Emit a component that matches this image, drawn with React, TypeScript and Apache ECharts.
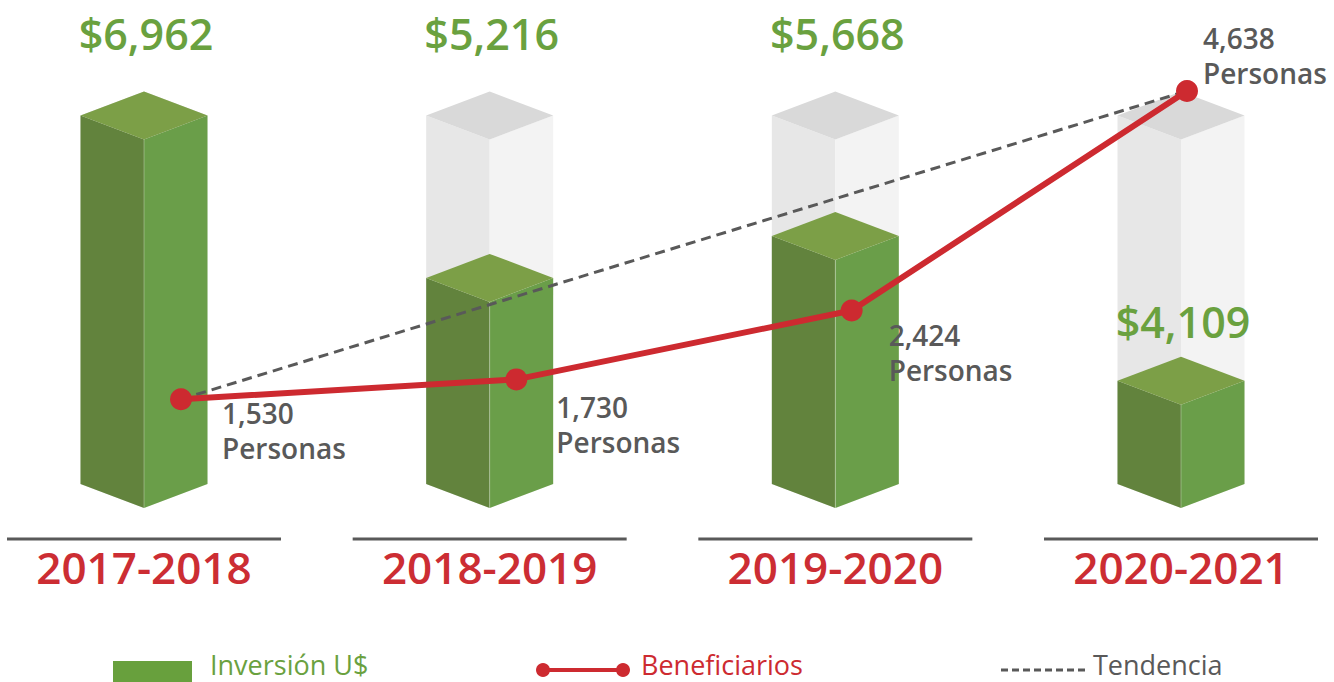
import React, { useEffect, useRef } from "react";
import * as echarts from "echarts";

// ---- Data ----
const categories: string[] = ["2017-2018", "2018-2019", "2019-2020", "2020-2021"];
const investment: number[] = [6962, 5216, 5668, 4109]; // Inversión U$
const beneficiaries: number[] = [1530, 1730, 2424, 4638]; // Personas
const trend: (number | null)[] = [1530, null, null, 4638]; // Tendencia (first to last)

const legendLabels = { inv: "Inversión U$", ben: "Beneficiarios", trend: "Tendencia" };
const personasSuffix = "Personas";

// ---- Styles ----
const FONT = "'Open Sans', 'Noto Sans', sans-serif";
const GREEN_TEXT = "#6aa13f";
const GREEN_LEFT = "#62833d";
const GREEN_RIGHT = "#6a9e49";
const GREEN_TOP = "#7c9f47";
const GHOST_LEFT = "#e7e7e7";
const GHOST_RIGHT = "#f3f3f3";
const GHOST_TOP = "#d9d9d9";
const RED = "#cd2a30";
const GREY = "#595959";

const BAR_MIN = 3000;
const BAR_MAX = 7000;
const LINE_MIN = 0;
const LINE_MAX = 5000;

const fmt = (v: number) => v.toLocaleString("en-US");

// label offsets for the beneficiaries points (style)
const pointLabelOffsets: [number, number][] = [
  [30, 31],
  [29, 45],
  [26, 42],
  [5, -35],
];

export default function App() {
  const ref = useRef<HTMLDivElement>(null);

  useEffect(() => {
    if (!ref.current) return;
    const chart = echarts.init(ref.current, undefined, { renderer: "svg" });
    const ghostMax = Math.max(...investment);
    const lastIdx = investment.length - 1;

    const renderItem = (params: any, api: any) => {
      const i = api.value(0);
      const v = api.value(1);
      const topPt = api.coord([i, v]);
      const basePt = api.coord([i, BAR_MIN]);
      const ghostPt = api.coord([i, ghostMax]);
      const cx = topPt[0];
      const hw = 63.5;
      const d = 24;
      const b = basePt[1];

      const faces = (t: number, cl: string, cr: string, ct: string) => [
        {
          type: "polygon",
          shape: { points: [[cx - hw, t], [cx, t + d], [cx, b + d], [cx - hw, b]] },
          style: { fill: cl },
        },
        {
          type: "polygon",
          shape: { points: [[cx, t + d], [cx + hw, t], [cx + hw, b], [cx, b + d]] },
          style: { fill: cr },
        },
        {
          type: "polygon",
          shape: { points: [[cx - hw, t], [cx, t - d], [cx + hw, t], [cx, t + d]] },
          style: { fill: ct },
        },
      ];

      const t = topPt[1];
      const labelY = i === lastIdx ? t - 59 : 33;

      return {
        type: "group",
        children: [
          ...faces(ghostPt[1], GHOST_LEFT, GHOST_RIGHT, GHOST_TOP),
          ...faces(t, GREEN_LEFT, GREEN_RIGHT, GREEN_TOP),
          {
            type: "line",
            shape: { x1: cx, y1: t + d, x2: cx, y2: b + d },
            style: { stroke: "rgba(255,255,255,0.3)", lineWidth: 1 },
          },
          {
            type: "line",
            shape: { x1: cx - 137, y1: b + 55, x2: cx + 137, y2: b + 55 },
            style: { stroke: GREY, lineWidth: 3 },
          },
          {
            type: "text",
            x: cx + 2,
            y: labelY,
            style: {
              text: "$" + fmt(v),
              fill: GREEN_TEXT,
              fontSize: 43,
              fontWeight: 600,
              fontFamily: FONT,
              align: "center",
              verticalAlign: "middle",
            },
          },
        ],
      };
    };

    const legendText = (x: number, text: string, fill: string, weight: number) => ({
      type: "text",
      x,
      y: 664,
      style: {
        text,
        fill,
        fontSize: 27,
        fontWeight: weight,
        lineHeight: 27,
        fontFamily: FONT,
        verticalAlign: "middle",
        align: "left",
      },
    });

    const option: any = {
      animation: false,
      grid: [
        { left: 144, right: 153, top: 112, bottom: 198 },
        { left: 181, right: 147, top: 55, bottom: 131 },
      ],
      xAxis: [
        {
          type: "category",
          gridIndex: 0,
          data: categories,
          boundaryGap: false,
          axisLine: { show: false },
          axisTick: { show: false },
          splitLine: { show: false },
          axisLabel: {
            interval: 0,
            margin: 58,
            fontSize: 44,
            fontWeight: 600,
            lineHeight: 50,
            color: "#cc2d33",
            fontFamily: FONT,
          },
        },
        { type: "category", gridIndex: 1, data: categories, boundaryGap: false, show: false },
      ],
      yAxis: [
        { type: "value", gridIndex: 0, min: BAR_MIN, max: BAR_MAX, show: false, splitLine: { show: false } },
        { type: "value", gridIndex: 1, min: LINE_MIN, max: LINE_MAX, show: false, splitLine: { show: false } },
      ],
      series: [
        {
          type: "custom",
          name: legendLabels.inv,
          xAxisIndex: 0,
          yAxisIndex: 0,
          clip: false,
          z: 1,
          data: investment.map((v, i) => [i, v]),
          encode: { x: 0, y: 1 },
          renderItem,
        },
        {
          type: "line",
          name: legendLabels.trend,
          xAxisIndex: 1,
          yAxisIndex: 1,
          z: 2,
          data: trend,
          connectNulls: true,
          symbol: "none",
          lineStyle: { color: GREY, width: 3, type: [10, 6] },
          silent: true,
        },
        {
          type: "line",
          name: legendLabels.ben,
          xAxisIndex: 1,
          yAxisIndex: 1,
          z: 3,
          symbol: "circle",
          symbolSize: 22,
          lineStyle: { color: RED, width: 6 },
          itemStyle: { color: RED },
          data: beneficiaries.map((v, i) => ({
            value: v,
            label: {
              show: true,
              position: "right",
              distance: 0,
              offset: pointLabelOffsets[i],
              align: "left",
              formatter: (p: any) => `${fmt(p.value)}\n${personasSuffix}`,
              color: GREY,
              fontSize: 28,
              fontWeight: 600,
              lineHeight: 35,
              fontFamily: FONT,
            },
          })),
        },
      ],
      graphic: [
        { type: "rect", shape: { x: 113, y: 661, width: 79, height: 22 }, style: { fill: "#68a03d" } },
        legendText(210, legendLabels.inv, GREEN_TEXT, 500),
        { type: "line", shape: { x1: 542, y1: 670, x2: 624, y2: 670 }, style: { stroke: RED, lineWidth: 4 } },
        { type: "circle", shape: { cx: 543, cy: 670, r: 7 }, style: { fill: RED } },
        { type: "circle", shape: { cx: 623, cy: 670, r: 7 }, style: { fill: RED } },
        legendText(641, legendLabels.ben, RED, 500),
        { type: "line", shape: { x1: 1001, y1: 670, x2: 1087, y2: 670 }, style: { stroke: GREY, lineWidth: 3, lineDash: [7, 4] } },
        legendText(1093, legendLabels.trend, GREY, 400),
      ],
    };

    chart.setOption(option);
    return () => chart.dispose();
  }, []);

  return (
    <div
      ref={ref}
      style={{ position: "absolute", left: 0, top: 0, width: 1334, height: 682, background: "#ffffff" }}
    />
  );
}
